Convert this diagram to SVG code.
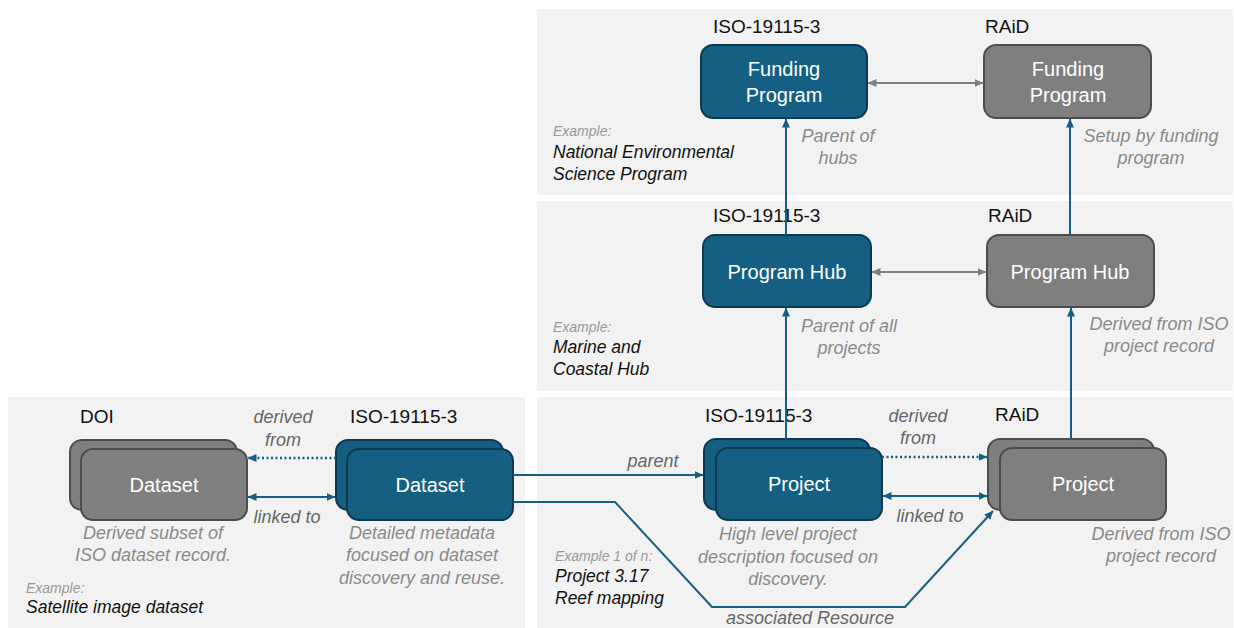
<svg xmlns="http://www.w3.org/2000/svg" width="1234" height="628" viewBox="0 0 1234 628">
<defs>
<style>
text{font-family:"Liberation Sans",Arial,sans-serif}
.panel{fill:#f2f2f2}
.blue{fill:#156082;stroke:#0c3a50;stroke-width:2}
.gray{fill:#7f7f7f;stroke:#4d4d4d;stroke-width:2}
.nt{fill:#ffffff;font-size:20px;text-anchor:middle}
.hdr{fill:#111111;font-size:19px}
.desc{fill:#8a8a8a;font-size:18px;font-style:italic;text-anchor:middle}
.cl{fill:#666666;font-size:18px;font-style:italic;text-anchor:middle}
.exs{fill:#999999;font-size:14px;font-style:italic}
.exb{fill:#111111;font-size:17.5px;font-style:italic}
.cb{fill:none;stroke:#156082;stroke-width:2}
.cbd{fill:none;stroke:#156082;stroke-width:2.5;stroke-dasharray:2 2.5}
.cg{fill:none;stroke:#7f7f7f;stroke-width:2}
</style>
<marker id="ab" markerWidth="9" markerHeight="8" refX="8.5" refY="4" orient="auto-start-reverse" markerUnits="userSpaceOnUse"><path d="M0,0 L9,4 L0,8 z" fill="#156082"/></marker>
<marker id="ag" markerWidth="9" markerHeight="8" refX="8.5" refY="4" orient="auto-start-reverse" markerUnits="userSpaceOnUse"><path d="M0,0 L9,4 L0,8 z" fill="#7f7f7f"/></marker>
</defs>

<g id="panels">
<rect class="panel" x="537" y="9" width="696" height="186"/>
<rect class="panel" x="537" y="201" width="696" height="190"/>
<rect class="panel" x="537" y="397" width="696" height="231"/>
<rect class="panel" x="8" y="397" width="517" height="231"/>
</g>

<g id="labels">
<text class="hdr" x="713" y="33">ISO-19115-3</text>
<text class="hdr" x="985" y="33">RAiD</text>
<text class="exs" x="553" y="136">Example:</text>
<text class="exb" x="553" y="158">National Environmental</text>
<text class="exb" x="553" y="180">Science Program</text>
<text class="desc" x="838" y="142">Parent of</text>
<text class="desc" x="838" y="164">hubs</text>
<text class="desc" x="1151" y="142">Setup by funding</text>
<text class="desc" x="1151" y="164">program</text>

<text class="hdr" x="713" y="222">ISO-19115-3</text>
<text class="hdr" x="988" y="222">RAiD</text>
<text class="exs" x="553" y="332">Example:</text>
<text class="exb" x="553" y="353">Marine and</text>
<text class="exb" x="553" y="375">Coastal Hub</text>
<text class="desc" x="849" y="332">Parent of all</text>
<text class="desc" x="849" y="354">projects</text>
<text class="desc" x="1159" y="330">Derived from ISO</text>
<text class="desc" x="1159" y="352">project record</text>

<text class="hdr" x="705" y="422">ISO-19115-3</text>
<text class="hdr" x="995" y="421">RAiD</text>
<text class="desc" x="788" y="540">High level project</text>
<text class="desc" x="788" y="563">description focused on</text>
<text class="desc" x="788" y="585">discovery.</text>
<text class="exs" x="555" y="561">Example 1 of n:</text>
<text class="exb" x="555" y="582">Project 3.17</text>
<text class="exb" x="555" y="604">Reef mapping</text>
<text class="desc" x="1161" y="540">Derived from ISO</text>
<text class="desc" x="1161" y="562">project record</text>

<text class="hdr" x="80" y="423">DOI</text>
<text class="hdr" x="350" y="423">ISO-19115-3</text>
<text class="desc" x="153" y="539">Derived subset of</text>
<text class="desc" x="153" y="561">ISO dataset record.</text>
<text class="desc" x="422" y="539">Detailed metadata</text>
<text class="desc" x="422" y="561">focused on dataset</text>
<text class="desc" x="422" y="584">discovery and reuse.</text>
<text class="exs" x="26" y="593">Example:</text>
<text class="exb" x="26" y="613">Satellite image dataset</text>
</g>

<g id="iso-funding">
<rect class="blue" x="701" y="45" width="166" height="73" rx="12"/>
<text class="nt" x="784" y="76">Funding</text>
<text class="nt" x="784" y="102">Program</text>
</g>
<g id="raid-funding">
<rect class="gray" x="984" y="45" width="167" height="73" rx="12"/>
<text class="nt" x="1068" y="76">Funding</text>
<text class="nt" x="1068" y="102">Program</text>
</g>
<g id="iso-hub">
<rect class="blue" x="703" y="235" width="168" height="72" rx="12"/>
<text class="nt" x="787" y="279">Program Hub</text>
</g>
<g id="raid-hub">
<rect class="gray" x="987" y="235" width="167" height="72" rx="12"/>
<text class="nt" x="1070" y="279">Program Hub</text>
</g>
<g id="iso-project">
<rect class="blue" x="704" y="439" width="166" height="71" rx="12"/>
<rect class="blue" x="716" y="448" width="166" height="72" rx="12"/>
<text class="nt" x="799" y="491">Project</text>
</g>
<g id="raid-project">
<rect class="gray" x="988" y="439" width="166" height="71" rx="12"/>
<rect class="gray" x="1000" y="448" width="166" height="72" rx="12"/>
<text class="nt" x="1083" y="491">Project</text>
</g>
<g id="doi-dataset">
<rect class="gray" x="70" y="440" width="167" height="70" rx="12"/>
<rect class="gray" x="81" y="449" width="166" height="71" rx="12"/>
<text class="nt" x="164" y="492">Dataset</text>
</g>
<g id="iso-dataset">
<rect class="blue" x="336" y="440" width="167" height="70" rx="12"/>
<rect class="blue" x="347" y="449" width="166" height="71" rx="12"/>
<text class="nt" x="430" y="492">Dataset</text>
</g>

<g id="connectors">
<path class="cg" d="M868,83 L983,83" marker-start="url(#ag)" marker-end="url(#ag)"/>
<path class="cg" d="M872,272 L986,272" marker-start="url(#ag)" marker-end="url(#ag)"/>
<path class="cb" d="M786,235 L786,119" marker-end="url(#ab)"/>
<path class="cb" d="M1070,235 L1070,119" marker-end="url(#ab)"/>
<path class="cb" d="M786,439 L786,308" marker-end="url(#ab)"/>
<path class="cb" d="M1071,439 L1071,308" marker-end="url(#ab)"/>
<path class="cbd" d="M882,457 L987,457" marker-end="url(#ab)"/>
<path class="cb" d="M883,496 L987,496" marker-start="url(#ab)" marker-end="url(#ab)"/>
<path class="cbd" d="M336,458 L248,458" marker-end="url(#ab)"/>
<path class="cb" d="M248,497 L335,497" marker-start="url(#ab)" marker-end="url(#ab)"/>
<path class="cb" d="M513,475 L703,475" marker-end="url(#ab)"/>
<path class="cb" d="M513,502 L615,502 L712,607 L905,607 L993,511" marker-end="url(#ab)"/>
<text class="cl" x="283" y="423">derived</text>
<text class="cl" x="283" y="446">from</text>
<text class="cl" x="287" y="523">linked to</text>
<text class="cl" x="653" y="467">parent</text>
<text class="cl" x="918" y="422">derived</text>
<text class="cl" x="918" y="444">from</text>
<text class="cl" x="930" y="522">linked to</text>
<text class="cl" x="810" y="624">associated Resource</text>
</g>
</svg>
